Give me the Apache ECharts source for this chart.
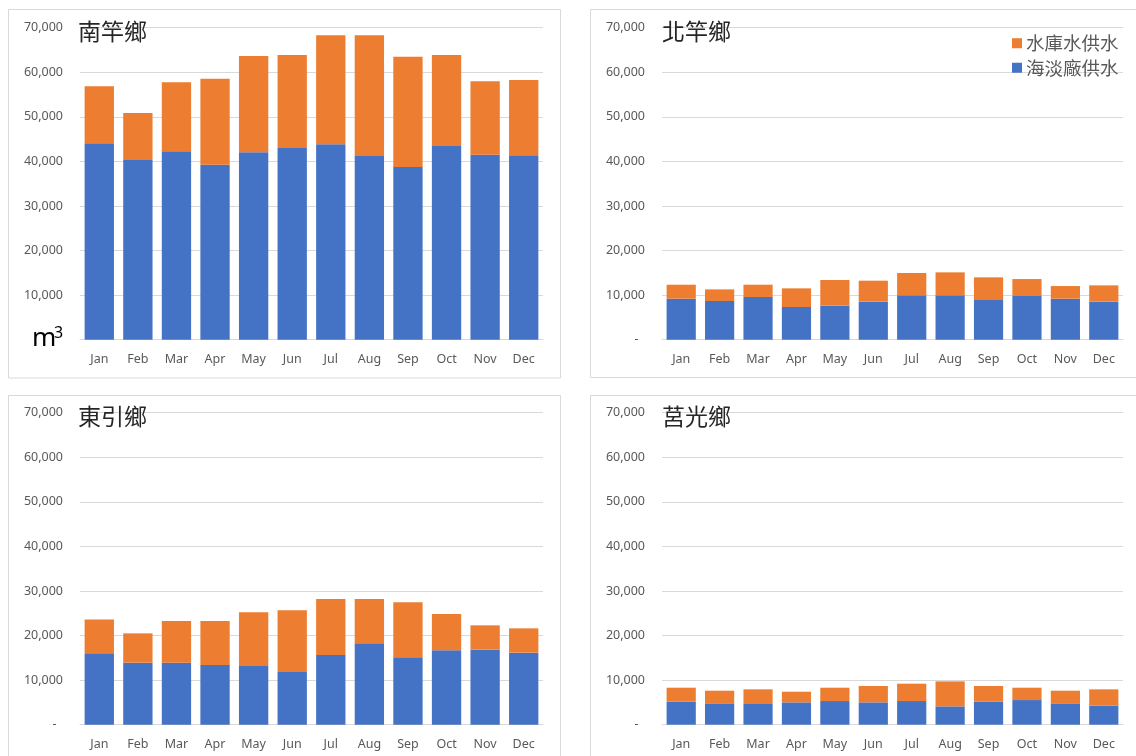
<!DOCTYPE html>
<html><head><meta charset="utf-8">
<script src="https://cdn.jsdelivr.net/npm/echarts@6/dist/echarts.min.js"></script>
<style>html,body{margin:0;padding:0;background:#fff}#c{width:1136px;height:756px}</style>
</head><body><div id="c"></div>
<script>
const months = ['Jan','Feb','Mar','Apr','May','Jun','Jul','Aug','Sep','Oct','Nov','Dec'];
const yTicks = [0,10000,20000,30000,40000,50000,60000,70000];
const townships = ['南竿鄉','北竿鄉','東引鄉','莒光鄉'];
const seriesNames = ['海淡廠供水','水庫水供水'];
// 海淡廠供水 (desalination) and 水庫水供水 (reservoir) per township
const desal_nangan = [44050,40300,42260,39270,42030,43010,43830,41210,38740,43460,41510,41360];
const reservoir_nangan = [12790,10560,15480,19290,21620,20860,24460,27080,24760,20410,16460,16900];
const desal_beigan = [9200,8680,9570,7330,7700,8530,9950,9950,8900,9800,9200,8530];
const reservoir_beigan = [3140,2610,2770,4190,5690,4710,5010,5160,5090,3810,2840,3660];
const desal_dongyin = [16010,13910,13910,13390,13160,11820,15630,18250,15110,16680,16830,16160];
const reservoir_dongyin = [7620,6580,9350,9870,12050,13830,12570,9950,12340,8150,5460,5460];
const desal_juguang = [5160,4790,4640,5010,5310,5010,5310,4110,5160,5530,4790,4260];
const reservoir_juguang = [3140,2840,3290,2390,2990,3670,3890,5610,3520,2770,2840,3670];

const desal = [desal_nangan, desal_beigan, desal_dongyin, desal_juguang];
const reservoir = [reservoir_nangan, reservoir_beigan, reservoir_dongyin, reservoir_juguang];

const BLUE = '#4472C4', ORANGE = '#ED7D31', GRID = '#D9D9D9', TXT = '#595959';
const LBL_FONT = '"Noto Sans", "Liberation Sans", sans-serif';
const CJK_FONT = '"Noto Sans CJK TC", "Noto Sans CJK SC", sans-serif';

const grids = [
  {left: 80, top: 27.7, width: 463, height: 312},
  {left: 662, top: 27.7, width: 461, height: 312},
  {left: 80, top: 412.7, width: 463, height: 312},
  {left: 662, top: 412.7, width: 461, height: 312}
];
const panels = [
  {x: 8.5, y: 9.5, w: 552, h: 368.5},
  {x: 590.5, y: 9.5, w: 560, h: 368},
  {x: 8.5, y: 395.5, w: 552, h: 380},
  {x: 590.5, y: 395.5, w: 560, h: 380}
];
const titlePos = [{x: 78, y: 31}, {x: 662, y: 31}, {x: 78, y: 416}, {x: 662, y: 416}];

function fmt(v){ return v === 0 ? '-  ' : v.toLocaleString('en-US'); }

const option = {
  animation: false,
  backgroundColor: '#fff',
  grid: grids,
  xAxis: grids.map((g,i)=>({
    type: 'category', gridIndex: i, data: months,
    axisTick: {show: false},
    axisLine: {lineStyle: {color: GRID, width: 1}},
    axisLabel: {color: TXT, fontSize: 12.5, fontFamily: LBL_FONT, margin: 13}
  })),
  yAxis: grids.map((g,i)=>({
    type: 'value', gridIndex: i, min: yTicks[0], max: yTicks[yTicks.length-1], interval: yTicks[1]-yTicks[0],
    axisLine: {show: false}, axisTick: {show: false},
    splitLine: {lineStyle: {color: GRID, width: 1}},
    axisLabel: {color: TXT, fontSize: 12.5, fontFamily: LBL_FONT, margin: 17, formatter: fmt}
  })),
  legend: {
    orient: 'vertical', left: 1007, top: 29,
    data: [seriesNames[1], seriesNames[0]],
    itemWidth: 10, itemHeight: 10, itemGap: 6, icon: 'rect',
    textStyle: {color: TXT, fontSize: 18.5, fontFamily: CJK_FONT, padding: [0,0,0,-1]}
  },
  series: [],
  graphic: []
};

for (let i = 0; i < 4; i++) {
  option.series.push({
    name: seriesNames[0], type: 'bar', stack: 's'+i, xAxisIndex: i, yAxisIndex: i,
    data: desal[i], itemStyle: {color: BLUE}, barCategoryGap: '24%'
  });
  option.series.push({
    name: seriesNames[1], type: 'bar', stack: 's'+i, xAxisIndex: i, yAxisIndex: i,
    data: reservoir[i], itemStyle: {color: ORANGE}, barCategoryGap: '24%'
  });
  const p = panels[i];
  option.graphic.push({
    type: 'rect', z: -10, silent: true,
    shape: {x: p.x, y: p.y, width: p.w, height: p.h},
    style: {fill: 'none', stroke: GRID, lineWidth: 1}
  });
  option.graphic.push({
    type: 'text', z: 100, silent: true, x: titlePos[i].x, y: titlePos[i].y,
    style: {text: townships[i], font: '400 23px ' + CJK_FONT, fill: '#262626', textVerticalAlign: 'middle'}
  });
}
// unit label m³ with white background to cover zero label
option.graphic.push({
  type: 'rect', z: 90, silent: true, shape: {x: 28, y: 322, width: 40, height: 28}, style: {fill: '#fff'}
});
option.graphic.push({
  type: 'text', z: 100, silent: true, x: 32, y: 339,
  style: {text: 'm', font: '400 26px ' + LBL_FONT, fill: '#000', textVerticalAlign: 'middle'}
});
option.graphic.push({
  type: 'text', z: 100, silent: true, x: 54, y: 333,
  style: {text: '3', font: '400 16px ' + LBL_FONT, fill: '#000', textVerticalAlign: 'middle'}
});

const chart = echarts.init(document.getElementById('c'), null, {renderer: 'canvas'});
chart.setOption(option);
</script>
</body></html>
